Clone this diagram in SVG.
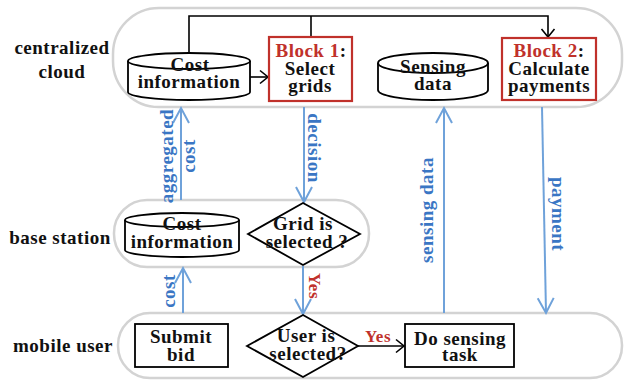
<svg xmlns="http://www.w3.org/2000/svg" width="625" height="383" viewBox="0 0 625 383">
<defs>
<style>
.lane{fill:none;stroke:#d3d3d3;stroke-width:2.5}
.nd{fill:#fff;stroke:#000;stroke-width:1.8}
.blk{fill:#fff;stroke:#c0312b;stroke-width:2.2}
.t{font-family:"Liberation Serif","Times New Roman",serif;font-weight:bold;font-size:19px;letter-spacing:0.5px;fill:#111;text-anchor:middle}
.lbl{font-family:"Liberation Serif","Times New Roman",serif;font-weight:bold;font-size:19px;letter-spacing:0.5px;fill:#111;text-anchor:middle}
.red{fill:#c0312b}
.bt{font-family:"Liberation Serif","Times New Roman",serif;font-weight:bold;font-size:19px;letter-spacing:0.5px;fill:#3a76c4;text-anchor:middle}
.rt{font-family:"Liberation Serif","Times New Roman",serif;font-weight:bold;font-size:17px;letter-spacing:0.5px;fill:#c0312b;text-anchor:middle}
.cb{fill:none;stroke:#000;stroke-width:1.6}
.cu{fill:none;stroke:#6fa2da;stroke-width:2}
</style>
<marker id="ak" markerUnits="userSpaceOnUse" markerWidth="12" markerHeight="16" refX="9" refY="7" orient="auto" overflow="visible">
<path d="M1,0.5 L9,7 L1,13.5" fill="none" stroke="#000" stroke-width="1.6"/>
</marker>
<marker id="au" markerUnits="userSpaceOnUse" markerWidth="18" markerHeight="18" refX="15" refY="8" orient="auto" overflow="visible">
<path d="M0,0 L15,8 L0,16" fill="none" stroke="#6fa2da" stroke-width="2"/>
</marker>
</defs>

<g id="lanes">
<rect class="lane" x="113" y="8" width="509" height="99" rx="46"/>
<rect class="lane" x="114" y="200" width="255" height="67" rx="33"/>
<rect class="lane" x="118" y="313" width="504" height="65" rx="32"/>
<text class="lbl" x="62" y="54">centralized</text>
<text class="lbl" x="62" y="78">cloud</text>
<text class="lbl" x="60" y="244">base station</text>
<text class="lbl" x="63" y="352">mobile user</text>
</g>

<g id="connectors">
<path class="cb" d="M189,53 V16 H548 V37" marker-end="url(#ak)"/>
<path class="cb" d="M311,16 V37"/>
<path class="cb" d="M250,77 H268" marker-end="url(#ak)"/>
<path class="cb" d="M358,346 H404" marker-end="url(#ak)"/>
<path class="cu" d="M181,200 V108" marker-end="url(#au)"/>
<path class="cu" d="M304,107 V202" marker-end="url(#au)"/>
<path class="cu" d="M444,313 V108" marker-end="url(#au)"/>
<path class="cu" d="M542,107 L546,313" marker-end="url(#au)"/>
<path class="cu" d="M183,313 V268" marker-end="url(#au)"/>
<path class="cu" d="M303,266 V314" marker-end="url(#au)"/>
<text class="bt" transform="translate(173,156) rotate(-90)">aggregated</text>
<text class="bt" transform="translate(195,156) rotate(-90)">cost</text>
<text class="bt" transform="translate(308,148) rotate(90)">decision</text>
<text class="bt" transform="translate(433,210) rotate(-90)">sensing data</text>
<text class="bt" transform="translate(552,214) rotate(90)">payment</text>
<text class="bt" transform="translate(175,291) rotate(-90)">cost</text>
<text class="rt" transform="translate(309,286) rotate(90)">Yes</text>
<text class="rt" x="378" y="342">Yes</text>
</g>

<g id="cloud-cost">
<path class="nd" d="M128,61 V92 A61,8 0 0 0 250,92 V61"/>
<ellipse class="nd" cx="189" cy="61" rx="61" ry="8"/>
<text class="t" x="190" y="71">Cost</text>
<text class="t" x="189" y="88">information</text>
</g>

<g id="block1">
<rect class="blk" x="269" y="37" width="83" height="64"/>
<text class="t" x="311" y="57"><tspan class="red">Block 1</tspan>:</text>
<text class="t" x="310" y="75">Select</text>
<text class="t" x="310" y="92">grids</text>
</g>

<g id="sensing-data">
<path class="nd" d="M378,63 V90 A55,10 0 0 0 488,90 V63"/>
<ellipse class="nd" cx="433" cy="63" rx="55" ry="10"/>
<text class="t" x="433" y="73">Sensing</text>
<text class="t" x="433" y="90">data</text>
</g>

<g id="block2">
<rect class="blk" x="502" y="38" width="94" height="62"/>
<text class="t" x="549" y="57"><tspan class="red">Block 2</tspan>:</text>
<text class="t" x="549" y="75">Calculate</text>
<text class="t" x="549" y="92">payments</text>
</g>

<g id="base-cost">
<path class="nd" d="M125,220 V250 A57,7 0 0 0 239,250 V220"/>
<ellipse class="nd" cx="182" cy="220" rx="57" ry="7"/>
<text class="t" x="182" y="230">Cost</text>
<text class="t" x="182" y="248">information</text>
</g>

<g id="grid-selected">
<polygon class="nd" points="303,203 360,234 303,265 248,234"/>
<text class="t" x="303" y="230">Grid is</text>
<text class="t" x="307" y="248">selected ?</text>
</g>

<g id="submit-bid">
<rect class="nd" x="135" y="324" width="93" height="43"/>
<text class="t" x="181" y="343">Submit</text>
<text class="t" x="181" y="361">bid</text>
</g>

<g id="user-selected">
<polygon class="nd" points="303,315 358,346 303,377 247,346"/>
<text class="t" x="306" y="342">User is</text>
<text class="t" x="308" y="360">selected?</text>
</g>

<g id="sensing-task">
<rect class="nd" x="405" y="324" width="109" height="43"/>
<text class="t" x="460" y="345">Do sensing</text>
<text class="t" x="460" y="361">task</text>
</g>
</svg>
